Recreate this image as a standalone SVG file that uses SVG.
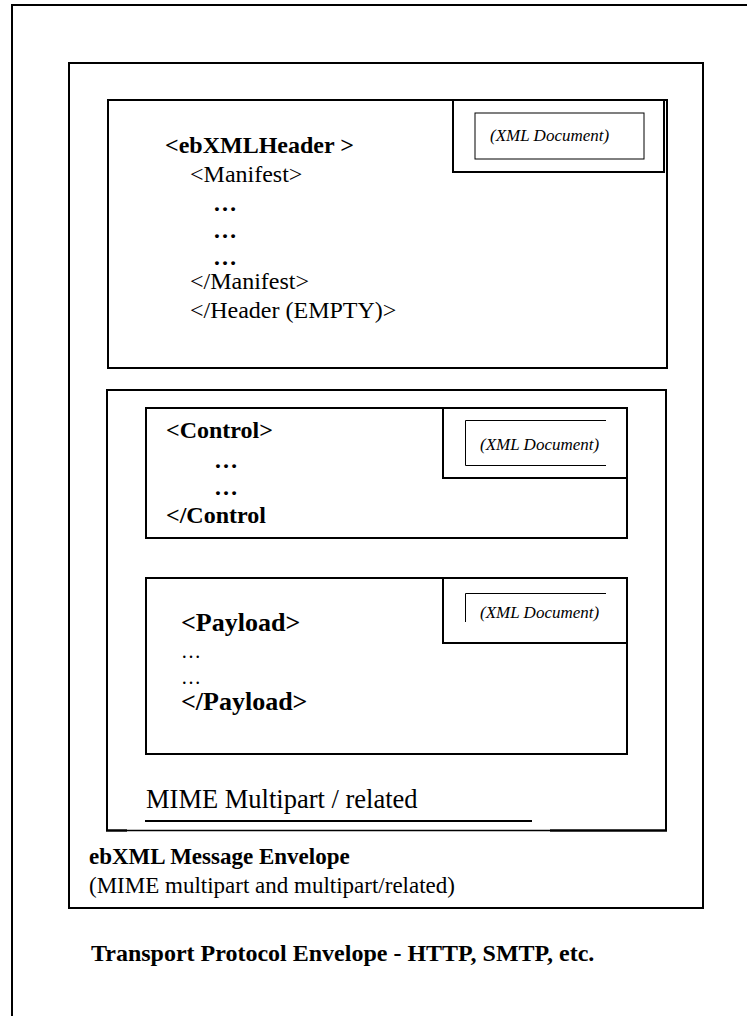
<svg xmlns="http://www.w3.org/2000/svg" width="747" height="1016" viewBox="0 0 747 1016">
<style>
.box{fill:none;stroke:#000;stroke-width:2}
.thin{fill:none;stroke:#000;stroke-width:1}
.t{font-family:"Liberation Serif","Times New Roman",serif;fill:#000}
.b{font-weight:bold}
.doc{font-family:"Liberation Serif","Times New Roman",serif;font-style:italic;font-size:17px;fill:#000}
</style>
<rect width="747" height="1016" fill="#fff"/>
<g id="transport-envelope">
<polyline class="box" points="12,1020 12,5 760,5"/>
<text class="t b" x="91" y="961" font-size="24">Transport Protocol Envelope - HTTP, SMTP, etc.</text>
</g>
<g id="message-envelope">
<rect class="box" x="69" y="63" width="634" height="845"/>
<text class="t b" x="89" y="864" font-size="23">ebXML Message Envelope</text>
<text class="t" x="89" y="893" font-size="23">(MIME multipart and multipart/related)</text>
</g>
<g id="header">
<rect class="box" x="108" y="100" width="559" height="268"/>
<rect class="box" x="453" y="100" width="211" height="72" fill="#fff"/>
<rect class="thin" x="475" y="113" width="169" height="46"/>
<text class="doc" x="490" y="141">(XML Document)</text>
<text class="t b" x="165" y="153" font-size="24">&lt;ebXMLHeader &gt;</text>
<text class="t" x="190" y="182" font-size="24">&lt;Manifest&gt;</text>
<text class="t b" x="213" y="211" font-size="24">…</text>
<text class="t b" x="213" y="238" font-size="24">…</text>
<text class="t b" x="213" y="265" font-size="24">…</text>
<text class="t" x="190" y="289" font-size="24">&lt;/Manifest&gt;</text>
<text class="t" x="190" y="318" font-size="24">&lt;/Header (EMPTY)&gt;</text>
</g>
<g id="mime-multipart">
<polyline class="box" points="107,830 107,390 666,390 666,831"/>
<line x1="106" y1="830.5" x2="127" y2="830.5" stroke="#000" stroke-width="2.5"/>
<line x1="127" y1="830.5" x2="550" y2="830.5" stroke="#000" stroke-width="1.5"/>
<line x1="550" y1="830.5" x2="667" y2="830.5" stroke="#000" stroke-width="2.5"/>
<text class="t" x="146" y="808" font-size="26.5">MIME Multipart / related</text>
<line x1="145" y1="821" x2="532" y2="821" stroke="#000" stroke-width="2"/>
</g>
<g id="control">
<rect class="box" x="146" y="408" width="481" height="130"/>
<rect class="box" x="443" y="408" width="184" height="70" fill="#fff"/>
<polyline class="thin" points="606,420.5 465.5,420.5 465.5,465.5 606,465.5"/>
<text class="doc" x="480" y="450">(XML Document)</text>
<text class="t b" x="166" y="438" font-size="24">&lt;Control&gt;</text>
<text class="t b" x="214" y="468" font-size="24">…</text>
<text class="t b" x="214" y="495" font-size="24">…</text>
<text class="t b" x="166" y="523" font-size="24">&lt;/Control</text>
</g>
<g id="payload">
<rect class="box" x="146" y="578" width="481" height="176"/>
<rect class="box" x="443" y="578" width="184" height="65" fill="#fff"/>
<polyline class="thin" points="606,593.5 465.5,593.5 465.5,622"/>
<text class="doc" x="480" y="618">(XML Document)</text>
<text class="t b" x="181" y="631" font-size="26">&lt;Payload&gt;</text>
<text class="t" x="181" y="658" font-size="20">…</text>
<text class="t" x="181" y="684" font-size="20">…</text>
<text class="t b" x="181" y="710" font-size="26">&lt;/Payload&gt;</text>
</g>
<g id="connectors"></g>
</svg>
